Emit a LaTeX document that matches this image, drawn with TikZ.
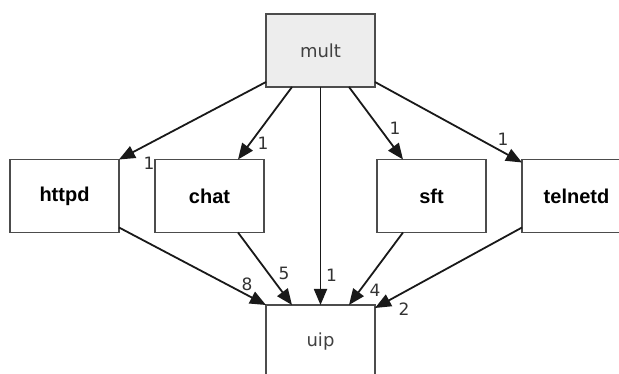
\documentclass[tikz,border=0pt]{standalone}
\usepackage{fontspec}
\setmainfont{DejaVu Sans}
\newfontfamily\progfont{Liberation Sans}
\usetikzlibrary{positioning,arrows.meta}

\begin{document}
\begin{tikzpicture}[x=1pt,y=-1pt,
	box/.style={draw=black!70, line width=1.6pt, outer sep=0pt, inner sep=0pt, minimum width=109pt, minimum height=73pt, text=black!75, font=\fontsize{18}{20}\selectfont},
	prog/.style={box, text=black, font=\progfont\bfseries\fontsize{20}{22}\selectfont},
	dep/.style={draw=black!90, line width=1.8pt, -{Triangle[length=16pt,width=13pt]}},
	lbl/.style={text=black!80, inner sep=0pt, font=\fontsize{17}{19}\selectfont}]
	\useasboundingbox (0,0) rectangle (619,374);
	
	\node[box, fill=black!7] (mult) at (320.5,50.5) {mult};
	\coordinate[below=109pt of mult] (row);
	\node[prog, left=56.5pt of row] (chat) {chat};
	\node[prog, left=36pt of chat] (httpd) {httpd};
	\node[prog, right=56.5pt of row] (sft) {sft};
	\node[prog, right=36pt of sft] (telnetd) {telnetd};
	\node[box, below=218pt of mult] (uip) {uip};
	
	\draw[dep] ([yshift=5pt]mult.south west) -- (httpd.north east) node[lbl, at end, xshift=30pt, yshift=-4pt] {1};
	\draw[dep] ([xshift=-28.5pt]mult.south) -- ([xshift=28.5pt]chat.north) node[lbl, at end, xshift=25pt, yshift=16pt] {1};
	\draw[dep] (mult.south) -- (uip.north) node[lbl, at end, xshift=11pt, yshift=30pt] {1};
	\draw[dep] ([xshift=28.5pt]mult.south) -- ([xshift=-28.5pt]sft.north) node[lbl, at end, xshift=-8pt, yshift=31pt] {1};
	\draw[dep] ([yshift=5pt]mult.south east) -- ([yshift=-3pt]telnetd.north west) node[lbl, at end, xshift=-19pt, yshift=23pt] {1};
	
	\draw[dep] ([yshift=5pt]httpd.south east) -- (uip.north west) node[lbl, at end, xshift=-19pt, yshift=21pt] {8};
	\draw[dep] ([xshift=28.5pt]chat.south) -- ([xshift=-28.5pt]uip.north) node[lbl, at end, xshift=-8pt, yshift=32pt] {5};
	\draw[dep] ([xshift=-28.5pt]sft.south) -- ([xshift=28.5pt]uip.north) node[lbl, at end, xshift=26pt, yshift=15pt] {4};
	\draw[dep] ([yshift=5pt]telnetd.south west) -- ([yshift=-3pt]uip.north east) node[lbl, at end, xshift=29pt, yshift=-1pt] {2};
\end{tikzpicture}
\end{document}
